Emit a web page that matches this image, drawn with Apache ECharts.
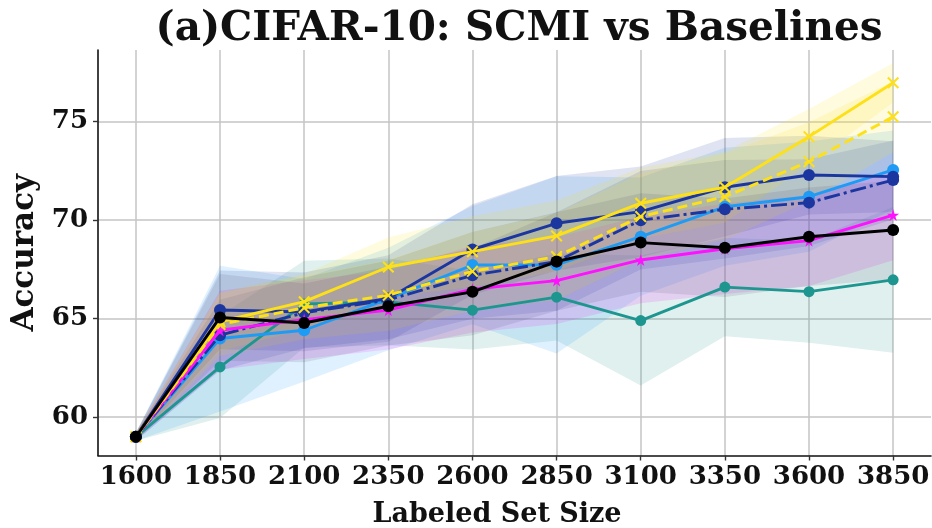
<!DOCTYPE html>
<html>
<head>
<meta charset="utf-8">
<script src="https://cdn.jsdelivr.net/npm/echarts@6/dist/echarts.min.js"></script>
<style>
  html, body { margin: 0; padding: 0; background: #fff; }
  #chart { width: 932px; height: 528px; }
</style>
</head>
<body>
<div id="chart"></div>
<script>
// Labeled set sizes on the x axis
const sizes = [1600, 1850, 2100, 2350, 2600, 2850, 3100, 3350, 3600, 3850];
const yTicks = [60, 65, 70, 75];

// Mean accuracy per method
const yellowSolid = [59.0, 64.84, 65.86, 67.62, 68.40, 69.20, 70.86, 71.67, 74.24, 76.98];
const yellowDash  = [59.0, 64.70, 65.55, 66.19, 67.40, 68.15, 70.18, 71.19, 72.97, 75.25];
const navySolid   = [59.0, 65.44, 65.34, 66.02, 68.51, 69.84, 70.43, 71.67, 72.29, 72.21];
const navyDashDot = [59.0, 64.16, 65.30, 65.95, 67.20, 67.90, 70.00, 70.55, 70.89, 72.04];
const skyBlue     = [59.0, 63.99, 64.41, 66.00, 67.72, 67.73, 69.16, 70.68, 71.19, 72.55];
const magenta     = [59.0, 64.41, 64.95, 65.43, 66.50, 66.93, 67.98, 68.55, 68.96, 70.26];
const black       = [59.0, 65.06, 64.78, 65.63, 66.36, 67.90, 68.86, 68.60, 69.16, 69.50];
const teal        = [59.0, 62.55, 65.74, 65.85, 65.43, 66.09, 64.90, 66.60, 66.37, 66.97];

// Spread (± band half-width) per method
const yellowSolidSd = [0.2, 1.5, 1.4, 1.5, 1.8, 1.8, 1.8, 1.8, 1.4, 1.0];
const yellowDashSd  = [0.2, 1.6, 1.6, 1.8, 2.0, 2.2, 2.2, 2.2, 2.0, 1.8];
const navySolidSd   = [0.2, 2.0, 2.0, 2.2, 2.3, 2.4, 2.3, 2.5, 2.0, 1.8];
const navyDashDotSd = [0.2, 1.8, 1.8, 2.0, 2.2, 2.5, 2.5, 2.5, 2.2, 2.0];
const skyBlueSd     = [0.2, 3.7, 2.6, 2.6, 3.0, 4.5, 3.0, 3.0, 2.8, 2.0];
const magentaSd     = [0.2, 2.0, 2.0, 2.0, 2.2, 2.2, 2.2, 2.3, 2.3, 2.3];
const blackSd       = [0.2, 2.2, 2.0, 2.0, 2.2, 2.5, 2.5, 2.5, 2.5, 2.5];
const tealSd        = [0.2, 2.6, 2.2, 2.2, 2.0, 2.2, 3.3, 2.5, 2.6, 3.7];

const SERIF = '"DejaVu Serif", "Liberation Serif", serif';
const CROSS = 'path://M0,1.2L1.2,0L5,3.8L8.8,0L10,1.2L6.2,5L10,8.8L8.8,10L5,6.2L1.2,10L0,8.8L3.8,5Z';
const STAR = 'path://M50,0L61,35L98,35L68,57L79,91L50,70L21,91L32,57L2,35L39,35Z';

const methods = [
  { key: 'teal',        mean: teal,        sd: tealSd,        color: '#1e9690', dash: 'solid',       symbol: 'circle', size: 11 },
  { key: 'skyBlue',     mean: skyBlue,     sd: skyBlueSd,     color: '#1e9cf5', dash: 'solid',       symbol: 'circle', size: 12 },
  { key: 'navyDashDot', mean: navyDashDot, sd: navyDashDotSd, color: '#1c36a0', dash: [16, 4, 3, 4], symbol: 'circle', size: 12 },
  { key: 'navySolid',   mean: navySolid,   sd: navySolidSd,   color: '#1c36a0', dash: 'solid',       symbol: 'circle', size: 12 },
  { key: 'magenta',     mean: magenta,     sd: magentaSd,     color: '#ff10ff', dash: 'solid',       symbol: STAR,     size: 12 },
  { key: 'yellowDash',  mean: yellowDash,  sd: yellowDashSd,  color: '#fde018', dash: [10, 5],       symbol: CROSS,    size: 12 },
  { key: 'yellowSolid', mean: yellowSolid, sd: yellowSolidSd, color: '#fde018', dash: 'solid',       symbol: CROSS,    size: 12 },
  { key: 'black',       mean: black,       sd: blackSd,       color: '#000000', dash: 'solid',       symbol: 'circle', size: 12 }
];

function hexToRgba(hex, a) {
  const n = parseInt(hex.slice(1), 16);
  return 'rgba(' + ((n >> 16) & 255) + ',' + ((n >> 8) & 255) + ',' + (n & 255) + ',' + a + ')';
}

const series = [];
// shaded spread bands: one polygon per method, upper edge then lower edge reversed
methods.forEach(function (m) {
  const rows = sizes.map(function (s, i) { return [s, m.mean[i] - m.sd[i], m.mean[i] + m.sd[i]]; });
  const fill = m.key === 'black' ? 'rgba(70,70,100,0.13)' : hexToRgba(m.color, 0.14);
  series.push({
    type: 'custom', silent: true, z: 1,
    encode: { x: 0, y: [1, 2] },
    data: rows,
    renderItem: function (params, api) {
      if (params.dataIndex !== 0) return null;
      const upper = rows.map(function (r) { return api.coord([r[0], r[2]]); });
      const lower = rows.map(function (r) { return api.coord([r[0], r[1]]); }).reverse();
      return {
        type: 'polygon',
        shape: { points: upper.concat(lower) },
        style: { fill: fill, stroke: 'none' }
      };
    }
  });
});
// mean curves
methods.forEach(function (m, k) {
  series.push({
    name: m.key, type: 'line', z: 3 + k,
    data: sizes.map(function (s, i) { return [s, m.mean[i]]; }),
    symbol: m.symbol, symbolSize: m.size, showSymbol: true,
    itemStyle: { color: m.color },
    lineStyle: { color: m.color, width: 2.9, type: m.dash },
    emphasis: { disabled: true }
  });
});

const plain = function (v) { return String(v); };

const chart = echarts.init(document.getElementById('chart'), null, { renderer: 'canvas' });
chart.setOption({
  animation: false,
  backgroundColor: '#ffffff',
  title: {
    text: '(a)CIFAR-10: SCMI vs Baselines',
    left: 514, top: 4, textAlign: 'center',
    textStyle: { fontFamily: SERIF, fontWeight: 'bold', fontSize: 40.5, color: '#111' }
  },
  grid: { left: 98, top: 50, width: 833, height: 405.5, containLabel: false, outerBoundsMode: 'none' },
  xAxis: {
    type: 'value', min: 1487.5, max: 3962.5,
    name: 'Labeled Set Size', nameLocation: 'middle', nameGap: 46,
    nameTextStyle: { fontFamily: SERIF, fontWeight: 'bold', fontSize: 27, color: '#111', padding: [0, 35, 0, 0] },
    axisLine: { show: true, lineStyle: { color: '#111', width: 1.6 } },
    axisTick: { show: true, length: 5, customValues: sizes, lineStyle: { color: '#333', width: 1.4 } },
    axisLabel: { customValues: sizes, formatter: plain, margin: 9, fontFamily: SERIF, fontWeight: 'bold', fontSize: 26, color: '#111' },
    splitLine: { show: true, lineStyle: { color: '#c4c4c4', width: 1.5 } }
  },
  yAxis: {
    type: 'value', min: 58.05, max: 78.64,
    name: 'Accuracy', nameLocation: 'middle', nameGap: 52,
    nameTextStyle: { fontFamily: SERIF, fontWeight: 'bold', fontSize: 31, color: '#111' },
    axisLine: { show: true, lineStyle: { color: '#111', width: 1.6 } },
    axisTick: { show: true, length: 5, customValues: yTicks, lineStyle: { color: '#333', width: 1.4 } },
    axisLabel: { customValues: yTicks, formatter: plain, margin: 10, fontFamily: SERIF, fontWeight: 'bold', fontSize: 26, color: '#111' },
    splitLine: { show: true, lineStyle: { color: '#c4c4c4', width: 1.5 } }
  },
  series: series
});
</script>
</body>
</html>
